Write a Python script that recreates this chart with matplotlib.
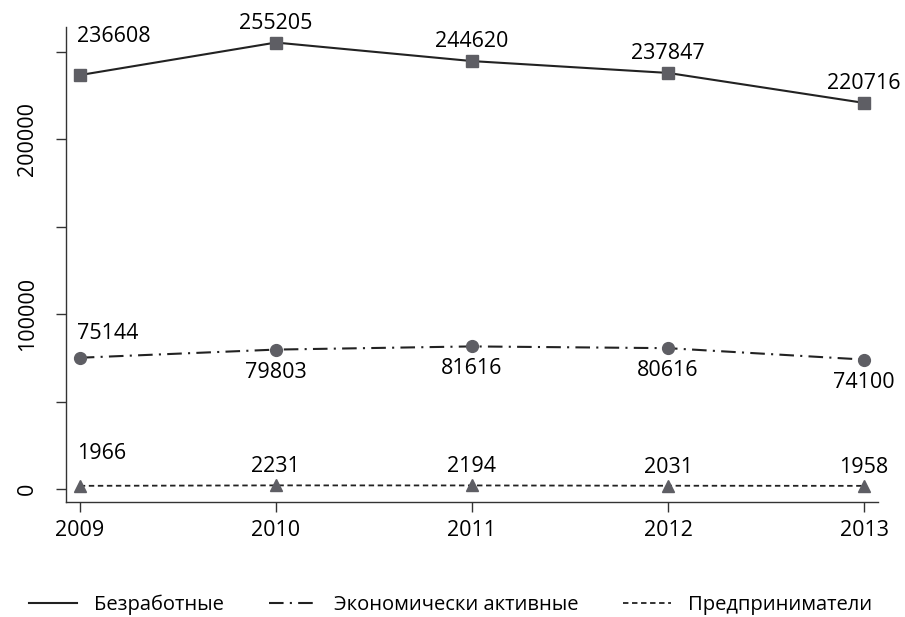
import matplotlib.pyplot as plt
from matplotlib.ticker import FixedLocator, FuncFormatter

plt.rcParams['font.family'] = ['Open Sans', 'DejaVu Sans']

years = [2009, 2010, 2011, 2012, 2013]
bezrab = [236608, 255205, 244620, 237847, 220716]
ekon = [75144, 79803, 81616, 80616, 74100]
predpr = [1966, 2231, 2194, 2031, 1958]
legend_labels = ['Безработные', 'Экономически активные', 'Предприниматели']

line_col = '#222222'
mark_col = '#5e5e64'

fig = plt.figure(figsize=(9.05, 6.17), dpi=100)
ax = fig.add_axes([0.073, 0.186, 0.897, 0.770])

l1, = ax.plot(years, bezrab, color=line_col, lw=1.5, marker='s', ms=8.5,
              mfc=mark_col, mec=mark_col)
l2, = ax.plot(years, ekon, color=line_col, lw=1.5, ls=(0, (7, 3, 1, 3)),
              marker='o', ms=8.5, mfc=mark_col, mec=mark_col)
l3, = ax.plot(years, predpr, color=line_col, lw=1.3, ls=(0, (3, 2)),
              marker='^', ms=9, mfc=mark_col, mec=mark_col)

fs = 15.5
# подписи значений: 2009 - сверху справа, остальные сверху/снизу по центру
for i, (x, y) in enumerate(zip(years, bezrab)):
    if i == 0:
        ax.annotate(str(y), (x, y), xytext=(-3, 28), textcoords='offset pixels',
                    ha='left', va='bottom', fontsize=fs)
    else:
        ax.annotate(str(y), (x, y), xytext=(0, 9), textcoords='offset pixels',
                    ha='center', va='bottom', fontsize=fs)
for i, (x, y) in enumerate(zip(years, ekon)):
    if i == 0:
        ax.annotate(str(y), (x, y), xytext=(-3, 14), textcoords='offset pixels',
                    ha='left', va='bottom', fontsize=fs)
    else:
        ax.annotate(str(y), (x, y), xytext=(0, -12), textcoords='offset pixels',
                    ha='center', va='top', fontsize=fs)
for i, (x, y) in enumerate(zip(years, predpr)):
    if i == 0:
        ax.annotate(str(y), (x, y), xytext=(-3, 22), textcoords='offset pixels',
                    ha='left', va='bottom', fontsize=fs)
    else:
        ax.annotate(str(y), (x, y), xytext=(0, 8), textcoords='offset pixels',
                    ha='center', va='bottom', fontsize=fs)

ax.set_xlim(2008.93, 2013.07)
ax.set_ylim(-7400, 264000)
ax.set_xticks(years)
ax.yaxis.set_major_locator(FixedLocator([0, 50000, 100000, 150000, 200000, 250000]))
ax.yaxis.set_major_formatter(FuncFormatter(lambda v, p: '%d' % v if v % 100000 == 0 else ''))
for lab in ax.get_yticklabels():
    lab.set_rotation(90)
    lab.set_va('center')
ax.tick_params(axis='both', labelsize=fs, length=7, width=1, color='#333333')
ax.tick_params(axis='y', pad=13)
ax.tick_params(axis='x', pad=6)

for s in ['top', 'right']:
    ax.spines[s].set_visible(False)
for s in ['left', 'bottom']:
    ax.spines[s].set_color('#333333')
    ax.spines[s].set_linewidth(1)

fig.legend([l1, l2, l3], legend_labels, loc='center', bbox_to_anchor=(0.498, 0.02),
           ncol=3, frameon=False, fontsize=14.5, handlelength=2.4, columnspacing=2.2,
           handletextpad=0.85, markerscale=0, borderpad=0)

fig.savefig('out.png', dpi=100)
